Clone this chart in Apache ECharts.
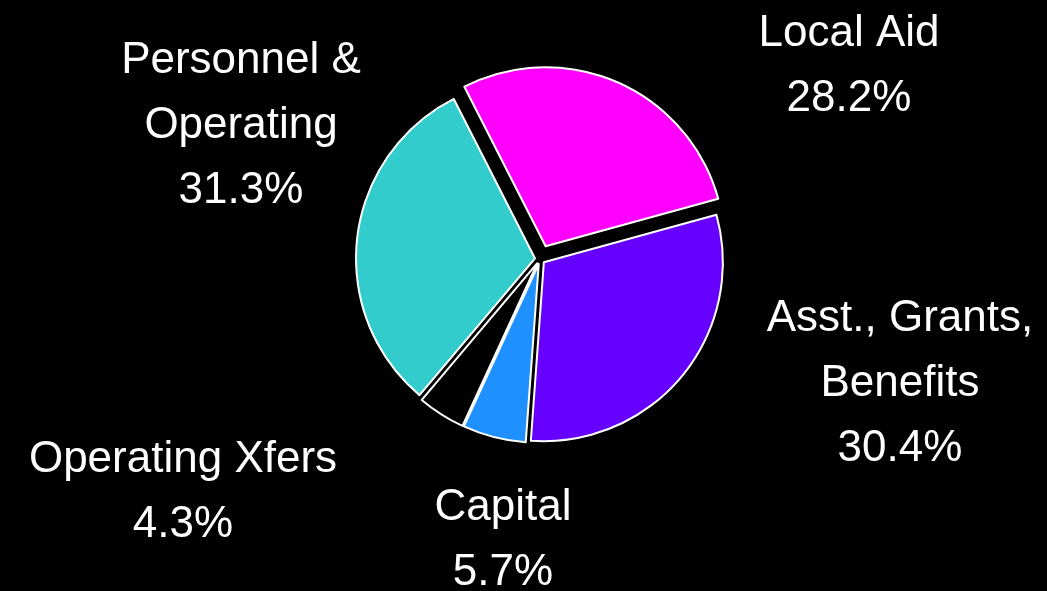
<!DOCTYPE html>
<html>
<head>
<meta charset="utf-8">
<script src="https://cdn.jsdelivr.net/npm/echarts@6/dist/echarts.min.js"></script>
<style>
  html, body { margin: 0; padding: 0; background: #000; }
  #chart { width: 1047px; height: 591px; }
</style>
</head>
<body>
<div id="chart"></div>
<script>
// budget shares, clockwise from Local Aid
var categories = ['Local Aid', 'Asst., Grants,\nBenefits', 'Capital', 'Operating Xfers', 'Personnel &\nOperating']
var shares = [28.2, 30.4, 5.7, 4.3, 31.3]
var colors = ['#ff00ff', '#6600ff', '#1e90ff', '#000000', '#33cccc']

// where each label block sits (centre of the text block)
var labelSpots = [[849, 66], [900, 384], [503, 540], [183, 492], [241, 126]]

var chart = echarts.init(document.getElementById('chart'))

function buildData (onlyFirst) {
  return categories.map(function (name, i) {
    var visible = onlyFirst ? i === 0 : i !== 0
    return {
      name: name,
      value: shares[i],
      selected: true,
      itemStyle: visible
        ? { color: colors[i], borderColor: '#ffffff', borderWidth: 2 }
        : { color: 'rgba(0,0,0,0)', borderWidth: 0 }
    }
  })
}

function pieSeries (onlyFirst, offset) {
  return {
    type: 'pie',
    center: [540, 259],
    radius: [0, 179],
    startAngle: 117,
    clockwise: true,
    selectedMode: 'multiple',
    selectedOffset: offset,
    animation: false,
    silent: true,
    emphasis: { disabled: true },
    select: { itemStyle: { borderColor: '#ffffff' } },
    label: { show: false },
    labelLine: { show: false },
    data: buildData(onlyFirst)
  }
}

var labels = categories.map(function (name, i) {
  return {
    type: 'text',
    x: labelSpots[i][0],
    y: labelSpots[i][1],
    silent: true,
    style: {
      text: name + '\n' + shares[i] + '%',
      fill: '#ffffff',
      font: '44px "Liberation Sans", Arial, sans-serif',
      lineHeight: 65,
      textAlign: 'center',
      textVerticalAlign: 'middle'
    }
  }
})

chart.setOption({
  backgroundColor: '#000000',
  graphic: labels,
  series: [pieSeries(false, 5), pieSeries(true, 14)]
})
</script>
</body>
</html>
